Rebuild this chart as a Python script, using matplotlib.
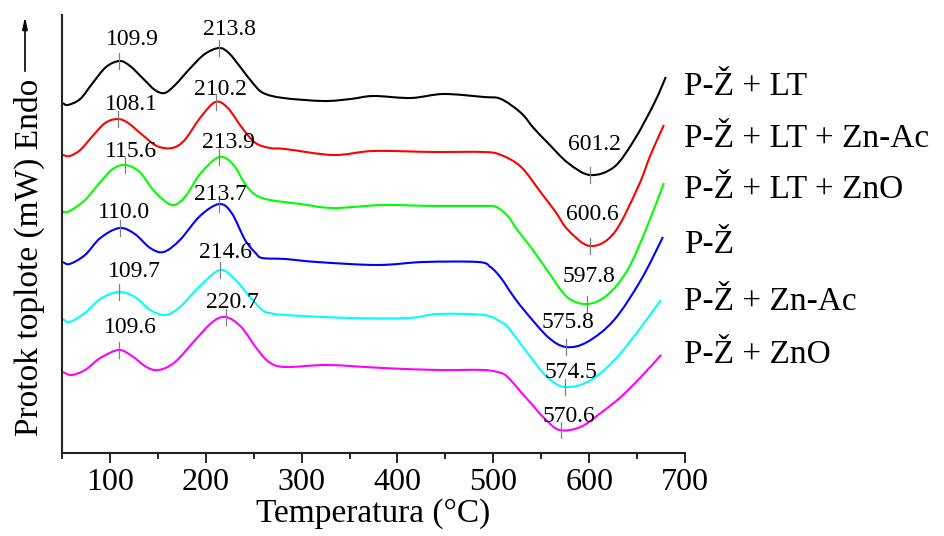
import numpy as np
import matplotlib.pyplot as plt
from matplotlib.path import Path
from matplotlib.patches import PathPatch
from matplotlib.ticker import MultipleLocator

plt.rcParams['font.family'] = ['Liberation Serif', 'DejaVu Serif']

# sample names (top to bottom) and line colours
names = ['P-Ž + LT', 'P-Ž + LT + Zn-Ac', 'P-Ž + LT + ZnO', 'P-Ž', 'P-Ž + Zn-Ac', 'P-Ž + ZnO']
colors = ['#000000', '#ff0000', '#00ff00', '#0000ff', '#00ffff', '#ff00ff']

# DSC curves, temperature (C) and shifted heat flow (arb. units)
t_lt = [51, 56, 69, 82, 96, 110, 121, 135, 147, 157, 168, 184, 199, 214, 224, 236, 249, 260, 281,
        323, 351, 375, 414, 448, 490, 508, 529, 542, 557, 578, 601, 626, 647, 668, 680]
v_lt = [350, 348, 354, 370, 386, 392, 387, 374, 363, 360, 368, 385, 399, 405, 400, 386, 370, 360, 355,
        352, 354, 357, 355, 359, 356, 354, 340, 325, 310, 290, 278, 286, 313, 350, 376]

t_lt_znac = [51, 58, 69, 82, 95, 108, 119, 134, 149, 165, 178, 194, 210, 223, 238, 252, 267, 283, 333,
             375, 438, 490, 508, 529, 550, 565, 578, 601, 626, 651, 664, 678]
v_lt_znac = [298, 297, 303, 317, 330, 334, 330, 318, 307, 305, 313, 335, 351, 345, 325, 310, 305, 304, 298,
             302, 301, 301, 298, 286, 260, 241, 223, 207, 220, 266, 298, 328]

t_lt_zno = [51, 58, 74, 90, 103, 116, 131, 147, 165, 179, 194, 214, 229, 241, 252, 267, 299, 333, 385,
            438, 490, 503, 515, 525, 539, 556, 577, 598, 619, 640, 659, 678]
v_lt_zno = [241, 242, 253, 271, 284, 288, 281, 261, 248, 257, 279, 296, 288, 269, 258, 253, 249, 245, 248,
            247, 247, 246, 237, 223, 206, 183, 156, 149, 158, 183, 223, 270]

t_pz = [51, 58, 74, 90, 110, 126, 142, 156, 173, 194, 214, 227, 241, 252, 259, 283, 316, 379, 427,
        484, 497, 508, 520, 532, 557, 576, 598, 626, 654, 677]
v_pz = [191, 189, 198, 215, 225, 219, 205, 201, 213, 237, 249, 240, 213, 200, 195, 194, 191, 188, 191,
        191, 186, 175, 158, 143, 116, 106, 111, 133, 173, 216]

t_znac = [51, 58, 74, 90, 109, 126, 142, 158, 173, 194, 215, 231, 246, 259, 267, 283, 351, 411, 442,
          490, 508, 515, 527, 539, 556, 575, 602, 633, 675]
v_znac = [134, 131, 140, 154, 161, 156, 143, 138, 146, 167, 183, 173, 156, 143, 140, 138, 135, 135, 139,
          138, 131, 126, 111, 96, 76, 66, 73, 100, 153]

t_zno = [51, 60, 74, 90, 109, 123, 138, 151, 168, 189, 207, 221, 237, 252, 266, 283, 327, 385, 442,
         490, 508, 515, 527, 539, 553, 569, 591, 612, 633, 654, 675]
v_zno = [81, 78, 83, 95, 103, 97, 86, 83, 91, 113, 131, 136, 126, 106, 91, 86, 88, 85, 83,
         83, 80, 76, 63, 50, 35, 23, 26, 40, 56, 76, 98]

curves_t = [t_lt, t_lt_znac, t_lt_zno, t_pz, t_znac, t_zno]
curves_v = [v_lt, v_lt_znac, v_lt_zno, v_pz, v_znac, v_zno]

# marked peaks: temperature and curve height there
peak_t = [[109.9, 213.8, 601.2], [108.1, 210.2, 600.6], [115.6, 213.9, 597.8],
          [110.0, 213.7, 575.8], [109.7, 214.6, 574.5], [109.6, 220.7, 570.6]]
peak_v = [[392, 405, 278], [334, 351, 207], [288, 296, 149],
          [225, 249, 106], [161, 183, 66], [103, 136, 23]]

# where the peak labels sit (centre x, baseline y)
label_pos = [[(123, 408), (224.5, 418), (605, 303)],
             [(122, 343), (215, 358), (603, 233)],
             [(122, 296), (224, 305), (600, 171)],
             [(114.5, 235), (215, 253), (578, 125)],
             [(126, 176), (221, 195), (581, 75)],
             [(121.5, 120), (228, 145), (579, 31)]]
name_y = [358, 306, 255, 200, 143, 90]


def smooth_path(t, v):
    # draw through the read points with cubic Bezier segments (Catmull-Rom style)
    p = np.column_stack([t, v]).astype(float)
    ext = np.vstack([p[0], p, p[-1]])
    verts = [p[0]]
    codes = [Path.MOVETO]
    for i in range(1, len(ext) - 2):
        c1 = ext[i] + (ext[i + 1] - ext[i - 1]) / 6
        c2 = ext[i + 1] - (ext[i + 2] - ext[i]) / 6
        verts += [c1, c2, ext[i + 1]]
        codes += [Path.CURVE4] * 3
    return Path(verts, codes)


fig = plt.figure(figsize=(9.44, 5.36), dpi=100)
ax = fig.add_axes([62/944, 83/536, 623/944, 438/536])

for i in range(6):
    ax.add_patch(PathPatch(smooth_path(curves_t[i], curves_v[i]), fill=False,
                           edgecolor=colors[i], lw=1.5))
    for T, v, (lx, ly) in zip(peak_t[i], peak_v[i], label_pos[i]):
        ax.plot([T, T], [v - 8, v + 8], color='#808080', lw=0.9)
        ax.text(lx, ly, '%.1f' % T, ha='center', va='baseline', fontsize=17)
    ax.text(699, name_y[i], names[i], ha='left', va='baseline', fontsize=24, clip_on=False)

ax.set_xlim(50, 700)
ax.set_ylim(0, 438)
ax.set_yticks([])
ax.xaxis.set_major_locator(MultipleLocator(100))
ax.xaxis.set_minor_locator(MultipleLocator(50))
ax.tick_params(axis='x', which='major', direction='out', length=7, width=1.2, labelsize=23, pad=4)
ax.tick_params(axis='x', which='minor', direction='out', length=4, width=1.2)
for s in ['top', 'right']:
    ax.spines[s].set_visible(False)
for s in ['left', 'bottom']:
    ax.spines[s].set_linewidth(1.5)
    ax.spines[s].set_color('#222222')

ax.set_xlabel('Temperatura (°C)', fontsize=24, labelpad=1)
fig.text(29/944, (536 - 257)/536, 'Protok toplote (mW) Endo', rotation=90,
         ha='center', va='center', fontsize=24)
ax.annotate('', xy=(25/944, 522/536), xytext=(25/944, 462/536), xycoords='figure fraction',
            arrowprops=dict(arrowstyle='-|>,head_width=0.15,head_length=0.7', color='black', lw=1.2))

fig.savefig('out.png', dpi=100)
